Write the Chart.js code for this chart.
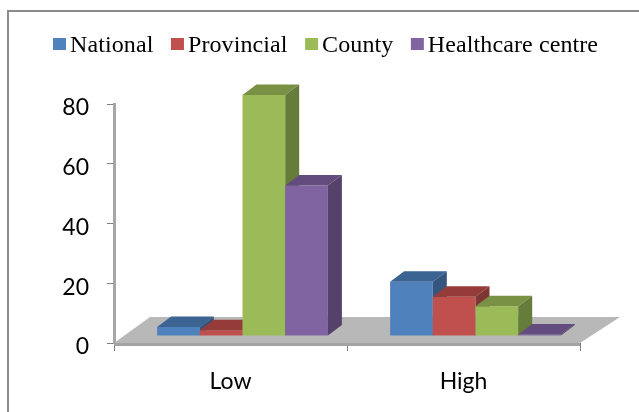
<!DOCTYPE html>
<html>
<head>
<meta charset="utf-8">
<script src="https://cdn.jsdelivr.net/npm/chart.js@4"></script>
<style>
  html, body { margin: 0; padding: 0; background: #fff; }
  canvas { display: block; }
</style>
</head>
<body>
<canvas id="chart" width="639" height="412"></canvas>
<script>
const categories = ["Low", "High"];
const seriesNames = ["National", "Provincial", "County", "Healthcare centre"];
const national = [3, 18.2];
const provincial = [1.9, 13.1];
const county = [80.7, 10];
const healthcare = [50.4, 0.5];
const seriesValues = [national, provincial, county, healthcare];
const frontColors = ["#4f81bd", "#c0504d", "#9bbb59", "#8064a2"];
const topColors = ["#3c6493", "#953c3a", "#789144", "#624d7e"];
const sideColors = ["#34557d", "#7f3533", "#667c3b", "#54426b"];
const yTicks = [0, 20, 40, 60, 80];

// offset of the bars against the axes, and depth of the fake 3d
const shiftX = 12, shiftY = -7;
const depthX = 14, depthY = -10.5;

const fake3d = {
  id: "fake3d",
  beforeDraw(chart) {
    // only the top and left edge of the frame are in the picture
    const ctx = chart.ctx;
    ctx.save();
    ctx.strokeStyle = "#8c8c8c";
    ctx.lineWidth = 2;
    ctx.beginPath();
    ctx.moveTo(8, 412);
    ctx.lineTo(8, 11);
    ctx.lineTo(639, 11);
    ctx.stroke();
    ctx.restore();
  },
  beforeDatasetsDraw(chart) {
    const ctx = chart.ctx, a = chart.chartArea;
    // floor
    ctx.save();
    ctx.fillStyle = "#b8b8b8";
    ctx.beginPath();
    ctx.moveTo(a.left, a.bottom);
    ctx.lineTo(a.right, a.bottom);
    ctx.lineTo(a.right + 40, a.bottom - 26);
    ctx.lineTo(a.left + 36, a.bottom - 26);
    ctx.closePath();
    ctx.fill();
    ctx.fillStyle = "#a3a3a3";
    ctx.fillRect(a.left, a.bottom, a.right - a.left, 3);

    // bars left to right so each front covers the side of the one before
    ctx.translate(shiftX, shiftY);
    chart.data.datasets.forEach((ds, i) => {
      chart.getDatasetMeta(i).data.forEach(bar => {
        bar.draw(ctx);
        const l = bar.x - bar.width / 2, r = bar.x + bar.width / 2;
        ctx.fillStyle = topColors[i];
        ctx.beginPath();
        ctx.moveTo(l, bar.y);
        ctx.lineTo(r, bar.y);
        ctx.lineTo(r + depthX, bar.y + depthY);
        ctx.lineTo(l + depthX, bar.y + depthY);
        ctx.closePath();
        ctx.fill();
        ctx.fillStyle = sideColors[i];
        ctx.beginPath();
        ctx.moveTo(r, bar.y);
        ctx.lineTo(r + depthX, bar.y + depthY);
        ctx.lineTo(r + depthX, bar.base + depthY);
        ctx.lineTo(r, bar.base);
        ctx.closePath();
        ctx.fill();
      });
    });
    ctx.restore();
    return false;
  },
  afterDraw(chart) {
    // legend, Excel keeps the swatch close to the text
    const ctx = chart.ctx;
    ctx.save();
    ctx.font = "24px 'Liberation Serif'";
    ctx.letterSpacing = "0.1px";
    ctx.textBaseline = "alphabetic";
    let x = 53;
    chart.data.datasets.forEach(ds => {
      ctx.fillStyle = ds.backgroundColor;
      ctx.fillRect(x, 38, 13, 12);
      x += 17;
      ctx.fillStyle = "#000";
      ctx.fillText(ds.label, x, 52);
      x += ctx.measureText(ds.label).width + 17.5;
    });
    ctx.restore();
  }
};

new Chart(document.getElementById("chart"), {
  type: "bar",
  data: {
    labels: categories,
    datasets: seriesNames.map((name, i) => ({
      label: name,
      data: seriesValues[i],
      backgroundColor: frontColors[i],
      categoryPercentage: 0.733,
      barPercentage: 1
    }))
  },
  options: {
    responsive: false,
    animation: false,
    layout: { padding: { top: 104, right: 59 } },
    plugins: { legend: { display: false }, tooltip: { enabled: false } },
    scales: {
      x: {
        grid: { drawOnChartArea: false, color: "#808080", tickLength: 8 },
        border: { display: false },
        ticks: { color: "#000", font: { family: "Lato", size: 23 }, padding: 17, maxRotation: 0 },
        afterFit: s => { s.height = 69; }
      },
      y: {
        min: 0,
        max: 80,
        afterBuildTicks: s => { s.ticks = yTicks.map(v => ({ value: v })); },
        grid: { drawOnChartArea: false, color: "#808080", tickLength: 7 },
        border: { color: "#a6a6a6", width: 3 },
        ticks: { color: "#000", font: { family: "Lato", size: 23 }, padding: 18, labelOffset: 4 },
        afterFit: s => { s.width = 114; }
      }
    }
  },
  plugins: [fake3d]
});
</script>
</body>
</html>
